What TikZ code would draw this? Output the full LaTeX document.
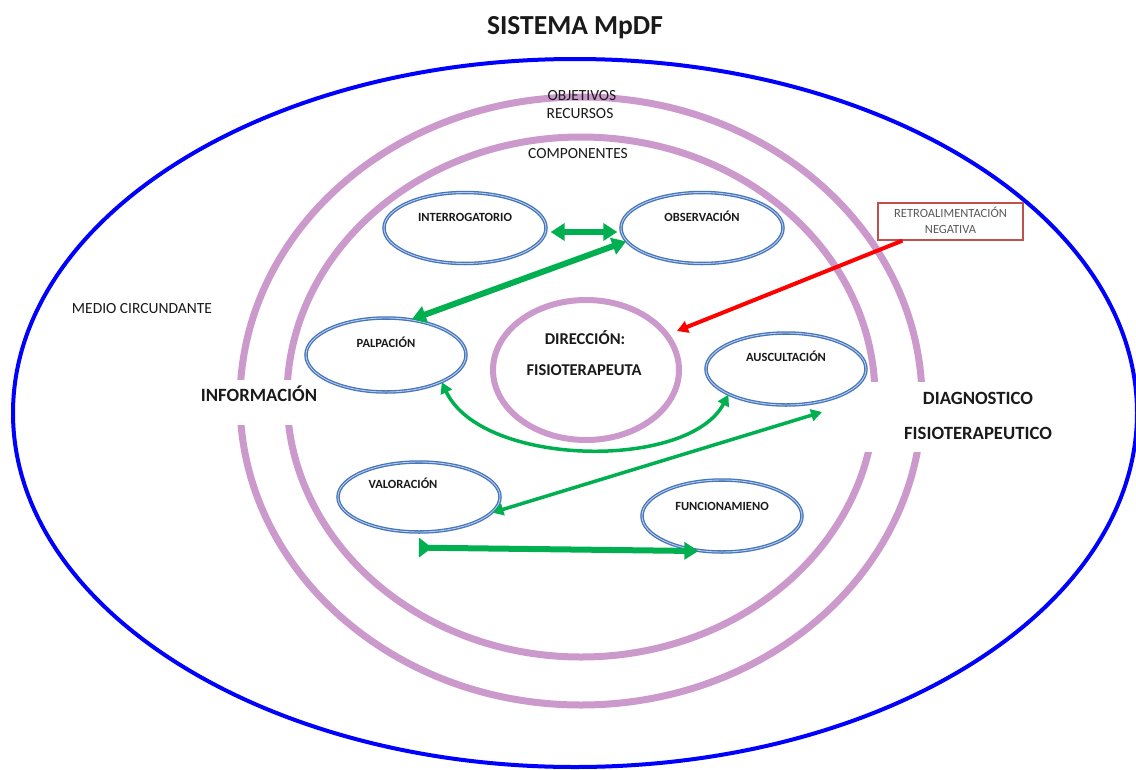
\documentclass[tikz,border=0pt]{standalone}
\usepackage{fontspec}
\setmainfont{Carlito}
\usetikzlibrary{shapes.geometric,arrows.meta}
\definecolor{cOuter}{HTML}{0000FF}
\definecolor{cPurple}{HTML}{CC99CC}
\definecolor{cEll}{HTML}{4575BA}
\definecolor{cEllIn}{HTML}{B9CCEA}
\definecolor{cGreen}{HTML}{00B050}
\definecolor{cRed}{HTML}{FF0000}
\definecolor{cBox}{HTML}{C0504D}
\definecolor{cTxt}{HTML}{1A1A1A}
\definecolor{cGray}{HTML}{595959}
\begin{document}
\begin{tikzpicture}[x=1pt,y=-1pt,
  ring/.style={draw=cPurple, line width=7pt},
  comp/.style={ellipse, draw=cEll, line width=1.3pt, double=cEllIn, double distance=0.9pt,
    minimum width=162pt, minimum height=71pt, inner sep=0pt},
  lbl/.style={font=\fontsize{12.5}{14}\selectfont\bfseries, text=cTxt, inner sep=0pt, text height=8pt, text depth=0pt},
  plain/.style={font=\fontsize{15.5}{17}\selectfont, text=cTxt, inner sep=0pt, text height=10pt, text depth=0pt},
  big/.style={font=\fontsize{18.7}{21}\selectfont\bfseries, text=cTxt, inner sep=0pt, text height=12pt, text depth=0pt},
  mid/.style={font=\fontsize{16.5}{18}\selectfont\bfseries, text=cTxt, inner sep=0pt, text height=10.6pt, text depth=0pt},
  whitebox/.style={fill=white, draw=none, inner sep=0pt},
  gthick/.style={draw=cGreen, line width=6pt, {Triangle[width=17pt,length=14pt]}-{Triangle[width=17pt,length=14pt]}},
  gthin/.style={draw=cGreen, line width=3.5pt, {Triangle[width=12pt,length=11pt]}-{Triangle[width=12pt,length=11pt]}},
  redarrow/.style={draw=cRed, line width=4pt, -{Triangle[width=12pt,length=11pt]}}
]
\useasboundingbox (0,0) rectangle (1136,769);
\fill[white] (0,0) rectangle (1136,769);

% title
\node[font=\fontsize{27.5}{30}\selectfont\bfseries, text=cTxt, inner sep=0pt, text height=17.7pt, text depth=0pt] (title) at (575,26) {SISTEMA MpDF};

% outer environment and rings
\node[ellipse, draw=cOuter, line width=4pt, minimum width=1124pt, minimum height=708pt, inner sep=0pt] (env) at (575,413) {};
\node[ellipse, ring, minimum width=682pt, minimum height=608pt, inner sep=0pt] (ringO) at (581,401) {};
\node[ellipse, ring, minimum width=588pt, minimum height=520pt, inner sep=0pt] (ringI) at (581,397) {};

% white gaps behind side labels
\node[whitebox, minimum width=126pt, minimum height=45pt] (gapL) at (259,402.5) {};
\node[whitebox, minimum width=236pt, minimum height=70pt] (gapR) at (977,417) {};

% ring labels
\node[plain] (obj) at (582,95) {OBJETIVOS};
\node[plain] (rec) at (580,113) {RECURSOS};
\node[plain] (compo) at (578,153) {COMPONENTES};
\node[plain] (medio) at (142,308) {MEDIO CIRCUNDANTE};
\node[big] (info) at (259,395) {INFORMACIÓN};
\node[big] (diag) at (978,398) {DIAGNOSTICO};
\node[big] (diag2) at (978,433) {FISIOTERAPEUTICO};

% centre
\node[ellipse, draw=cPurple, line width=6pt, minimum width=186pt, minimum height=140pt, inner sep=0pt] (DIR) at (586,370) {};
\node[mid] (dir1) at (585,339) {DIRECCIÓN:};
\node[mid] (dir2) at (584,370) {FISIOTERAPEUTA};

% components
\node[comp] (INT) at (465,228) {};
\node[comp] (OBS) at (702,228) {};
\node[comp, minimum width=160pt, minimum height=74pt] (PAL) at (386,355) {};
\node[comp, minimum width=160pt, minimum height=72pt] (AUS) at (786,369) {};
\node[comp, minimum width=162pt, minimum height=70pt] (VAL) at (419,497) {};
\node[comp, minimum width=160pt, minimum height=72pt] (FUN) at (722,516) {};

\node[lbl] (tINT) at ([yshift=11pt]INT.center) {INTERROGATORIO};
\node[lbl] (tOBS) at ([yshift=11pt]OBS.center) {OBSERVACIÓN};
\node[lbl] (tPAL) at ([yshift=12pt]PAL.center) {PALPACIÓN};
\node[lbl] (tAUS) at ([yshift=12pt]AUS.center) {AUSCULTACIÓN};
\node[lbl] (tVAL) at ([xshift=-16pt,yshift=13pt]VAL.center) {VALORACIÓN};
\node[lbl] (tFUN) at ([yshift=10pt]FUN.center) {FUNCIONAMIENO};

% feedback box
\node[draw=cBox, line width=1.3pt, minimum width=145pt, minimum height=37pt, inner sep=0pt, fill=white] (RET) at (950.5,221.5) {};
\node[font=\fontsize{12.5}{14}\selectfont, text=cGray, inner sep=0pt, text height=8pt, text depth=0pt] (ret1) at ([yshift=8.5pt]RET.center) {RETROALIMENTACIÓN};
\node[font=\fontsize{12.5}{14}\selectfont, text=cGray, inner sep=0pt, text height=8pt, text depth=0pt] (ret2) at ([yshift=-7.5pt]RET.center) {NEGATIVA};

% connectors
\draw[gthick] ([xshift=4pt,yshift=-4pt]INT.east) -- ([xshift=-3pt,yshift=-4pt]OBS.west);
\draw[gthick] (OBS.190) -- (PAL.54);
\draw[gthin] (PAL.-26) .. controls +(40,85) and +(-40,76) .. (AUS.204);
\draw[gthin] ([xshift=36pt,yshift=-43pt]AUS.center) -- (VAL.-12.5);
\draw[draw=cGreen, line width=6pt, {Triangle[reversed,width=19pt,length=13pt]}-{Triangle[width=17pt,length=14pt]}] ([yshift=-15pt]VAL.south) -- (FUN.236);
\draw[redarrow] ([xshift=25pt]RET.south west) -- ([xshift=91pt,yshift=39pt]DIR.center);
\end{tikzpicture}
\end{document}
